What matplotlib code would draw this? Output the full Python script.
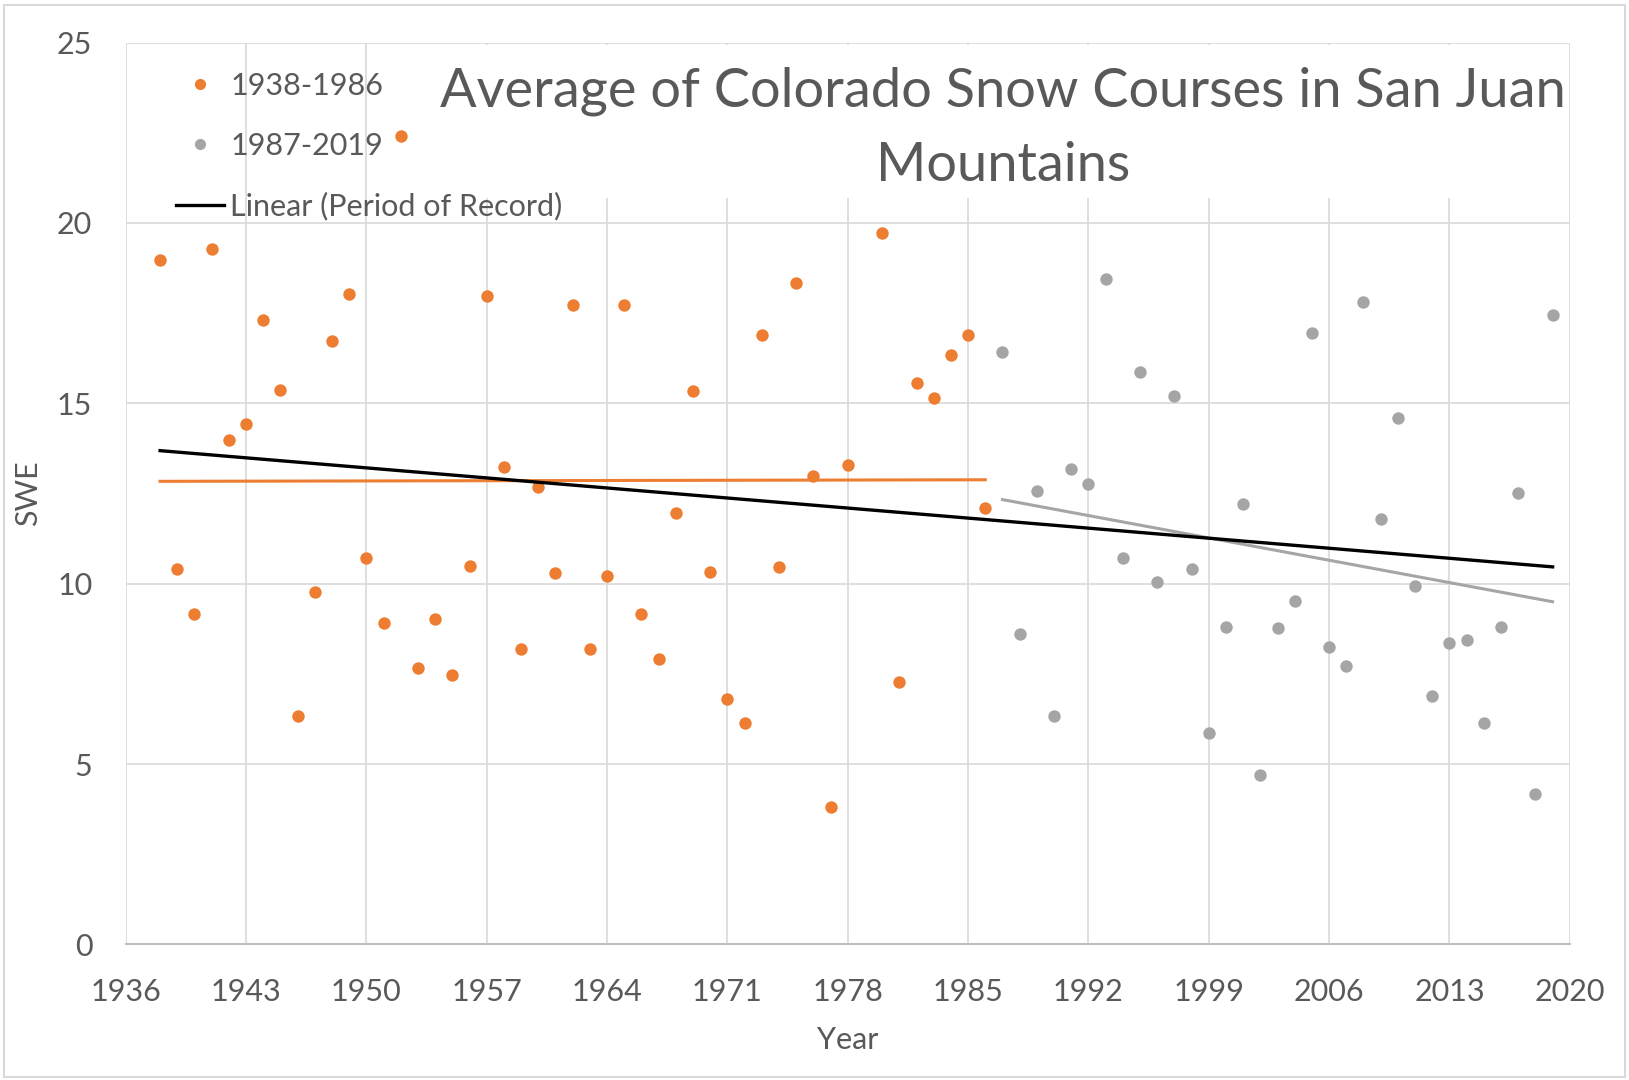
import numpy as np
import matplotlib
matplotlib.use("Agg")
import matplotlib.pyplot as plt
from matplotlib.lines import Line2D
from matplotlib.patches import Rectangle

# ---- data ----
# (the 1979 point sits behind the chart title in the reference, so it is hidden there too)
years_early = [1938, 1939, 1940, 1941, 1942, 1943, 1944, 1945, 1946, 1947,
               1948, 1949, 1950, 1951, 1952, 1953, 1954, 1955, 1956, 1957,
               1958, 1959, 1960, 1961, 1962, 1963, 1964, 1965, 1966, 1967,
               1968, 1969, 1970, 1971, 1972, 1973, 1974, 1975, 1976, 1977,
               1978, 1979, 1980, 1981, 1982, 1983, 1984, 1985, 1986]
swe_early = [18.97, 10.40, 9.16, 19.27, 13.97, 14.43, 17.31, 15.37, 6.33, 9.78,
             16.74, 18.03, 10.70, 8.90, 22.41, 7.65, 9.01, 7.47, 10.49, 17.98,
             13.24, 8.19, 12.67, 10.29, 17.72, 8.19, 10.22, 17.72, 9.16, 7.92,
             11.95, 15.35, 10.31, 6.80, 6.13, 16.90, 10.46, 18.34, 12.99, 3.81,
             13.30, 21.0, 19.73, 7.27, 15.57, 15.14, 16.35, 16.89, 12.11]

years_late = list(range(1987, 2020))
swe_late = [16.43, 8.60, 12.57, 6.33, 13.19, 12.76, 18.44, 10.70, 15.86, 10.04,
            15.19, 10.40, 5.87, 8.81, 12.21, 4.69, 8.76, 9.53, 16.94, 8.25,
            7.73, 17.82, 11.79, 14.58, 9.94, 6.90, 8.35, 8.44, 6.13, 8.81,
            12.51, 4.17, 17.46]

x_ticks = [1936, 1943, 1950, 1957, 1964, 1971, 1978, 1985, 1992, 1999, 2006, 2013, 2020]
y_ticks = [0, 5, 10, 15, 20, 25]

title_lines = ["Average of Colorado Snow Courses in San Juan", "Mountains"]
label_early = "1938-1986"
label_late = "1987-2019"
label_trend = "Linear (Period of Record)"

# ---- style ----
ORANGE = "#ED7D31"
GRAY = "#A5A5A5"
TXT = "#595959"
GRID = "#D9D9D9"
FONT = ["Lato", "DejaVu Sans"]
plt.rcParams["font.family"] = FONT

W, H = 1629, 1080
fig = plt.figure(figsize=(W / 100, H / 100), dpi=100)
fig.patch.set_facecolor("white")

L, R, T, B = 125.7, 1569.8, 42.6, 944.4
ax = fig.add_axes([L / W, 1 - B / H, (R - L) / W, (B - T) / H])

ax.set_xlim(1936, 2020)
ax.set_ylim(0, 25)
ax.set_xticks(x_ticks)
ax.set_yticks(y_ticks)
ax.grid(True, color=GRID, linewidth=1.2)
ax.set_axisbelow(True)
for s in ["top", "right", "left"]:
    ax.spines[s].set_visible(False)
ax.spines["bottom"].set_color("#BFBFBF")
ax.spines["bottom"].set_linewidth(1.5)
ax.tick_params(length=0, labelsize=22, colors=TXT)
ax.tick_params(axis="x", pad=24.5)
ax.tick_params(axis="y", pad=24)

ax.set_xlabel("Year", fontsize=22, color=TXT)
ax.set_ylabel("SWE", fontsize=22, color=TXT)
ax.xaxis.set_label_coords(0.5, (944.4 - 1026) / (B - T))
ax.yaxis.set_label_coords((42 - L) / (R - L), 0.5)

# white title area covering gridlines and marks beneath the title
ax.add_patch(Rectangle((440 / W, 1 - 198 / H), (1568 - 440) / W, (198 - 45) / H,
                       transform=fig.transFigure, facecolor="white",
                       edgecolor="none", zorder=4.5))

ms = 80
ax.scatter(years_early, swe_early, s=ms, color=ORANGE, zorder=3, linewidths=0)
ax.scatter(years_late, swe_late, s=ms, color=GRAY, zorder=3, linewidths=0)

# trend lines
def trend(xs, ys):
    xs = np.asarray(xs, float)
    p = np.polyfit(xs, np.asarray(ys, float), 1)
    xx = np.array([xs.min(), xs.max()])
    return xx, np.polyval(p, xx)

tx, ty = trend(years_early, swe_early)
ax.plot(tx, ty, color=ORANGE, lw=2.2, zorder=4)
tx, ty = trend(years_late, swe_late)
ax.plot(tx, ty, color=GRAY, lw=2.2, zorder=4)
tx, ty = trend(years_early + years_late, swe_early + swe_late)
ax.plot(tx, ty, color="black", lw=2.4, zorder=4)

handles = [
    Line2D([], [], linestyle="none", marker="o", markersize=7, color=ORANGE),
    Line2D([], [], linestyle="none", marker="o", markersize=7, color=GRAY),
    Line2D([], [], color="black", lw=2.4),
]
leg = ax.legend(handles, [label_early, label_late, label_trend],
                loc="upper left", bbox_to_anchor=(175.5 / W, 1 - 72 / H),
                bbox_transform=fig.transFigure, frameon=False,
                fontsize=22, labelcolor=TXT, handlelength=1.6,
                handletextpad=0.2, labelspacing=1.04, borderpad=0,
                borderaxespad=0)
leg.set_zorder(6)

fig.text(1003 / W, 1 - 106 / H, title_lines[0], ha="center", va="baseline",
         fontsize=39, color=TXT, zorder=7)
fig.text(1003 / W, 1 - 181 / H, title_lines[1], ha="center", va="baseline",
         fontsize=39, color=TXT, zorder=7)

# chart-area border
fig.add_artist(Rectangle((4 / W, 3 / H), (W - 8) / W, (H - 8) / H,
                         transform=fig.transFigure, facecolor="none",
                         edgecolor="#D9D9D9", linewidth=1.5))

fig.savefig("out.png", dpi=100)
